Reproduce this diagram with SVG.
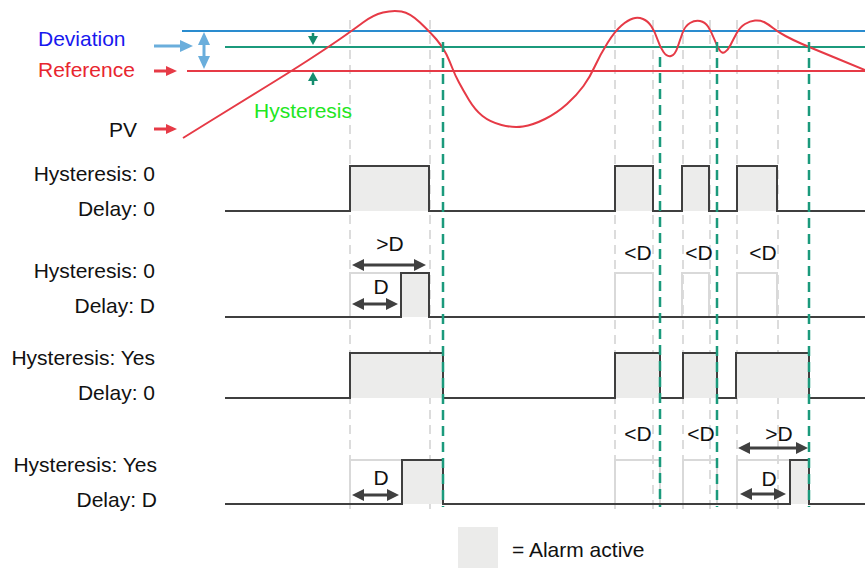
<svg xmlns="http://www.w3.org/2000/svg" width="865" height="569" viewBox="0 0 865 569">
<style>
text{font-family:"Liberation Sans",Arial,sans-serif;font-size:21px;fill:#111}
.lbl{text-anchor:end}
.mid{text-anchor:middle}
.sig{fill:none;stroke:#3f3f3f;stroke-width:2}
.act{fill:#ececeb;stroke:none}
.ghost{fill:none;stroke:#d9d9d9;stroke-width:2}
.gdash{stroke:#dcdcdc;stroke-width:2;stroke-dasharray:9 6;fill:none}
.tdash{stroke:#1b9a7c;stroke-width:2.5;stroke-dasharray:10 6;fill:none}
.darr{stroke:#404040;stroke-width:3;fill:none;marker-start:url(#ahd);marker-end:url(#ahd)}
</style>
<defs>
<marker id="ahd" viewBox="0 0 12 12" refX="8" refY="6" markerWidth="12" markerHeight="12" markerUnits="userSpaceOnUse" orient="auto-start-reverse"><path d="M0,0 L12,6 L0,12 z" fill="#404040"/></marker>
<marker id="ahb" viewBox="0 0 13 12" refX="9" refY="6" markerWidth="13" markerHeight="12" markerUnits="userSpaceOnUse" orient="auto-start-reverse"><path d="M0,0 L13,6 L0,12 z" fill="#6aaedc"/></marker>
<marker id="ahr" viewBox="0 0 11 10" refX="7" refY="5" markerWidth="11" markerHeight="10" markerUnits="userSpaceOnUse" orient="auto-start-reverse"><path d="M0,0 L11,5 L0,10 z" fill="#e63a46"/></marker>
<marker id="aht" viewBox="0 0 9 10" refX="6" refY="5" markerWidth="9" markerHeight="10" markerUnits="userSpaceOnUse" orient="auto"><path d="M0,0 L9,5 L0,10 z" fill="#158d6f"/></marker>
</defs>
<rect width="865" height="569" fill="#fff"/>

<g id="guides">
<path class="gdash" d="M350,20V512M430,20V512M615,20V512M653,20V512M683,20V512M710,20V512M737,20V512M778,20V512"/>
</g>

<g id="levels">
<line x1="182" y1="31" x2="865" y2="31" stroke="#2a8ccf" stroke-width="2"/>
<line x1="225" y1="47" x2="865" y2="47" stroke="#1b9a7c" stroke-width="2"/>
<line x1="187" y1="71" x2="865" y2="71" stroke="#e63a46" stroke-width="2"/>
<text x="38" y="46" style="fill:#1818ee">Deviation</text>
<text x="38" y="77" style="fill:#e8262f">Reference</text>
<text x="137" y="137" class="lbl">PV</text>
<text x="254" y="118" style="fill:#22e622">Hysteresis</text>
</g>

<g id="pv-curve">
<path fill="none" stroke="#e63a46" stroke-width="2" stroke-linejoin="round" d="M183,138 L208,122.5 Q233,107 261.5,89.5 Q290,72 308.5,60 Q327,48 340,39 Q353,30 363,22.5 Q373,15 383,12.5 Q393,10 401.5,11.5 Q410,13 420,22.5 Q430,32 436.5,39.5 Q443,47 446.5,54.5 Q450,62 452.5,68.5 Q455,75 459,82.5 Q463,90 469,100 Q475,110 482.5,116 Q490,122 501.5,125 Q513,128 523,126.5 Q533,125 545,119 Q557,113 567,104 Q577,95 583.5,86 Q590,77 595,66 Q600,55 607.5,43 Q615,31 621.5,25.5 Q628,20 633,18.5 Q638,17 643,19 Q648,21 651.5,26.5 Q655,32 657.5,39.5 Q660,47 663.5,52 Q667,57 671,56 Q675,55 677.5,47.5 Q680,40 682.5,33 Q685,26 690,23 Q695,20 700,21 Q705,22 708,26.5 Q711,31 714,38.5 Q717,46 719.5,50 Q722,54 725,52 Q728,50 730.5,45 Q733,40 736.5,33.5 Q740,27 745,24 Q750,21 755,20.5 Q760,20 764,22 Q768,24 773,28 Q778,32 785.5,36 Q793,40 801,43.5 Q809,47 837,58.5 L865,70"/>
</g>

<g id="row1">
<text x="155" y="181" class="lbl">Hysteresis: 0</text>
<text x="155" y="216" class="lbl">Delay: 0</text>
<rect class="act" x="350" y="166" width="79" height="45"/>
<rect class="act" x="615" y="166" width="38" height="45"/>
<rect class="act" x="682" y="166" width="27" height="45"/>
<rect class="act" x="737" y="166" width="40" height="45"/>
<path class="sig" d="M225,211 H350 V166 H429 V211 H615 V166 H653 V211 H682 V166 H709 V211 H737 V166 H777 V211 H865"/>
</g>

<g id="row2">
<text x="155" y="278" class="lbl">Hysteresis: 0</text>
<text x="155" y="313" class="lbl">Delay: D</text>
<rect class="ghost" x="350" y="273" width="51" height="44"/>
<rect class="ghost" x="615" y="273" width="38" height="44"/>
<rect class="ghost" x="682" y="273" width="27" height="44"/>
<rect class="ghost" x="737" y="273" width="40" height="44"/>
<rect class="act" x="401" y="273" width="28" height="44"/>
<path class="sig" d="M225,317 H401 V273 H429 V317 H865"/>
<text x="390" y="251" class="mid">&gt;D</text>
<text x="381" y="294" class="mid">D</text>
<text x="638" y="260" class="mid">&lt;D</text>
<text x="699" y="260" class="mid">&lt;D</text>
<text x="763" y="260" class="mid">&lt;D</text>
</g>

<g id="row3">
<text x="155" y="365" class="lbl">Hysteresis: Yes</text>
<text x="155" y="400" class="lbl">Delay: 0</text>
<rect class="act" x="350" y="353" width="93" height="45"/>
<rect class="act" x="615" y="353" width="45" height="45"/>
<rect class="act" x="683" y="353" width="34" height="45"/>
<rect class="act" x="736" y="353" width="73" height="45"/>
<path class="sig" d="M225,398 H350 V353 H443 V398 H615 V353 H660 V398 H683 V353 H717 V398 H736 V353 H809 V398 H865"/>
</g>

<g id="row4">
<text x="157" y="472" class="lbl">Hysteresis: Yes</text>
<text x="157" y="507" class="lbl">Delay: D</text>
<rect class="ghost" x="350" y="460" width="52" height="44"/>
<rect class="ghost" x="615" y="460" width="45" height="44"/>
<rect class="ghost" x="683" y="460" width="34" height="44"/>
<rect class="ghost" x="737" y="460" width="53" height="44"/>
<rect class="act" x="402" y="460" width="41" height="44"/>
<rect class="act" x="790" y="460" width="19" height="44"/>
<path class="sig" d="M225,504 H402 V460 H443 V504 H790 V460 H809 V504 H865"/>
<text x="381" y="485" class="mid">D</text>
<text x="638" y="441" class="mid">&lt;D</text>
<text x="701" y="441" class="mid">&lt;D</text>
<text x="779" y="441" class="mid">&gt;D</text>
<text x="769" y="486" class="mid">D</text>
</g>

<g id="legend">
<rect x="458" y="527" width="40" height="41" fill="#ebebea"/>
<text x="512" y="557">= Alarm active</text>
</g>

<g id="connectors">
<path class="tdash" d="M443,42V507M660,57V507M717,42V507M809,42V507"/>
<line x1="154" y1="46" x2="189" y2="46" stroke="#6aaedc" stroke-width="3" marker-end="url(#ahb)"/>
<line x1="204" y1="36" x2="204" y2="65" stroke="#6aaedc" stroke-width="3" marker-start="url(#ahb)" marker-end="url(#ahb)"/>
<line x1="154" y1="71" x2="173" y2="71" stroke="#e63a46" stroke-width="3" marker-end="url(#ahr)"/>
<line x1="154" y1="129" x2="173" y2="129" stroke="#e63a46" stroke-width="3" marker-end="url(#ahr)"/>
<line x1="313" y1="33" x2="313" y2="42" stroke="#158d6f" stroke-width="2.5" marker-end="url(#aht)"/>
<line x1="313" y1="85" x2="313" y2="75" stroke="#158d6f" stroke-width="2.5" marker-end="url(#aht)"/>
<line class="darr" x1="356" y1="265" x2="422" y2="265"/>
<line class="darr" x1="356" y1="304" x2="394" y2="304"/>
<line class="darr" x1="356" y1="495" x2="395" y2="495"/>
<line class="darr" x1="742" y1="448" x2="804" y2="448"/>
<line class="darr" x1="744" y1="494" x2="782" y2="494"/>
</g>
</svg>
